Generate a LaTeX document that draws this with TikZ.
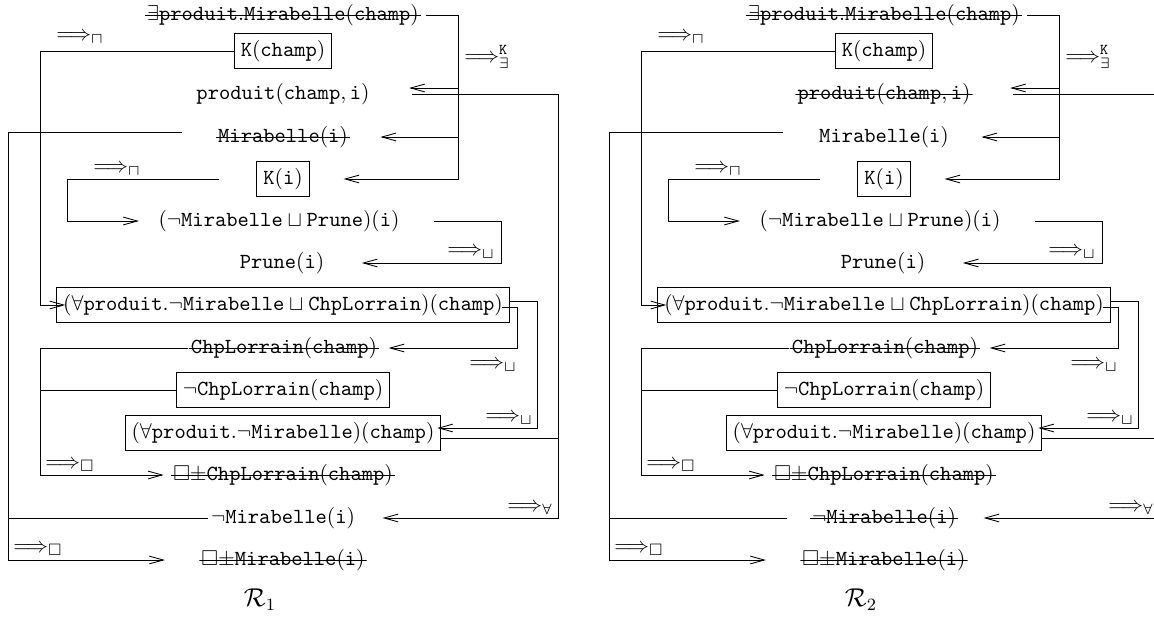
\documentclass[tikz,border=0pt]{standalone}
\usepackage{amssymb}
\usetikzlibrary{arrows.meta,calc}
\newcommand\tw[1]{\mathtt{#1}}
\tikzset{
  mot/.style={inner xsep=1pt, inner ysep=2pt},
  boite/.style={draw, inner sep=3pt},
  plain/.style={},
  barre/.style={path picture={\draw (path picture bounding box.west) -- (path picture bounding box.east);}},
  fl/.style={-{Straight Barb[length=6.5pt,width=3.6pt]}},
  regle/.style={anchor=west, inner sep=0pt},
}
\begin{document}
\begin{tikzpicture}[x=0.4651pt, y=-0.4651pt]
  \useasboundingbox (0,0) rectangle (1154,621);
  \clip (0,0) rectangle (1154,621);
  \foreach \dx/\sa/\sb/\sc/\gap/\nr in {0/plain/barre/plain/0/1, 601/barre/plain/barre/22/2} {
    \begin{scope}[shift={(\dx,0)}]
    % formules
    \node[mot,barre] (ex) at (283,15) {$\exists\tw{produit}.\tw{Mirabelle}(\tw{champ})$};
    \node[boite] (kc) at (283,51) {$\tw{K}(\tw{champ})$};
    \node[mot,\sa] (pr) at (283,94) {$\tw{produit}(\tw{champ},\tw{i})$};
    \node[mot,\sb] (mi) at (283,137) {$\tw{Mirabelle}(\tw{i})$};
    \node[boite] (ki) at (283,179) {$\tw{K}(\tw{i})$};
    \node[mot] (mp) at (279,221) {$(\neg\tw{Mirabelle}\sqcup\tw{Prune})(\tw{i})$};
    \node[mot] (pn) at (282,263) {$\tw{Prune}(\tw{i})$};
    \node[boite] (fa) at (283,305) {$(\forall\tw{produit}.\neg\tw{Mirabelle}\sqcup\tw{ChpLorrain})(\tw{champ})$};
    \node[mot,barre] (cl) at (284,348) {$\tw{ChpLorrain}(\tw{champ})$};
    \node[boite] (ncl) at (283,390) {$\neg\tw{ChpLorrain}(\tw{champ})$};
    \node[boite] (fm) at (283,433) {$(\forall\tw{produit}.\neg\tw{Mirabelle})(\tw{champ})$};
    \node[mot,barre] (bcl) at (283,475) {$\Box{\pm}\tw{ChpLorrain}(\tw{champ})$};
    \node[mot,\sc] (nm) at (283,518) {$\neg\tw{Mirabelle}(\tw{i})$};
    \node[mot,barre] (bm) at (283,560) {$\Box{\pm}\tw{Mirabelle}(\tw{i})$};
    \node (r) at (260,600) {\large$\mathcal{R}_{\nr}$};
    % colonnes des regles
    \coordinate (ml) at (8,0);
    \coordinate (kl) at (40,0);
    \coordinate (il) at (67,0);
    \coordinate (kr) at (458,0);
    \coordinate (ur) at (501,0);
    \coordinate (cr) at (517,0);
    \coordinate (fr) at (537,0);
    \coordinate (ar) at (558,0);
    % regle K-exists
    \draw[fl] ($(ex.east)+(5,0)$) -| (kr |- ki) -- ($(ki.east)+(34,0)$);
    \draw[fl] ($(kr |- pr)+(0,-6)$) -- ($(pr.east)+(37,-6)$);
    \draw[fl] (kr |- mi) -- ($(mi.east)+(30,0)$);
    \node[regle] (lk) at (464,57) {$\Longrightarrow^{\tw{K}}_{\exists}$};
    % regles sqcap
    \draw[fl] (kc.west) -| (kl |- fa) -- ($(fa.west)+(9,0)$);
    \node[regle] (lc) at (56,38) {$\Longrightarrow_{\sqcap}$};
    \draw[fl] ($(ki.west)+(-37,0)$) -| (il |- mp) -- ($(mp.west)+(-17,0)$);
    \node[regle] (li) at (93,170) {$\Longrightarrow_{\sqcap}$};
    % regles sqcup
    \draw[fl] ($(mp.east)+(32,0)$) -| (ur |- pn) -- ($(pn.east)+(35,0)$);
    \node[regle] (lu) at (447,253) {$\Longrightarrow_{\sqcup}$};
    \draw[fl] ($(fa.east)+(-8,2)$) -| (cr |- cl) -- ($(cl.east)+(9,0)$);
    \node[regle] (lu1) at (469,366) {$\Longrightarrow_{\sqcup}$};
    \draw[fl] ($(fa.east)+(0,-4)$) -| ($(fr |- fm)+(0,-5)$) -- ($(fm.east)+(-4,-5)$);
    \node[regle] (lu2) at (485,419) {$\Longrightarrow_{\sqcup}$};
    % regles box
    \draw[fl] (cl.west) -| (kl |- bcl) -- ($(bcl.west)+(-7,0)$);
    \draw (ncl.west) -- (kl |- ncl);
    \node[regle] (lb) at (45,466) {$\Longrightarrow_{\Box}$};
    \draw[fl] ($(mi.west)+(-34,-5)$) -| (ml |- bm) -- ($(bm.west)+(-34,0)$);
    \draw ($(nm.west)+(-\gap,0)$) -- (ml |- nm);
    \node[regle] (lm) at (13,550) {$\Longrightarrow_{\Box}$};
    % regle forall
    \draw[fl] ($(pr.east)+(40,0)$) -| (ar |- nm) -- ($(nm.east)+(25,0)$);
    \draw ($(fm.east)+(0,5)$) -- ($(ar |- fm)+(0,5)$);
    \node[regle] (lf) at (507,509) {$\Longrightarrow_{\forall}$};
    \end{scope}
  }
\end{tikzpicture}
\end{document}
